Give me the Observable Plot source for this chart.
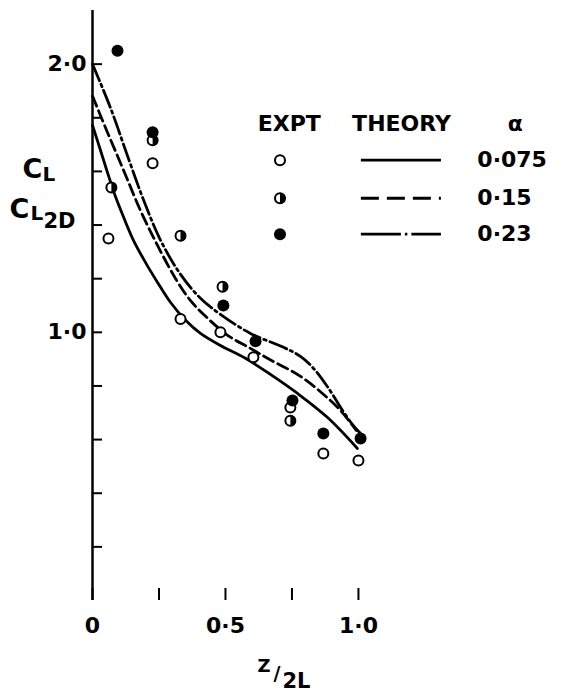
<!DOCTYPE html>
<html>
<head>
<meta charset="utf-8">
<script src="https://cdn.jsdelivr.net/npm/d3@7"></script>
<script src="https://cdn.jsdelivr.net/npm/@observablehq/plot@0.6"></script>
<style>
  html, body { margin: 0; padding: 0; background: #fff; }
</style>
</head>
<body>
<div id="chart"></div>
<script>
// ---- data ----
const alphaLabels = ["0·075", "0·15", "0·23"];

// Theory curves (z/2l, CL/CL2D)
const theory075X = [0, 0.030, 0.056, 0.086, 0.117, 0.154, 0.199, 0.244, 0.293, 0.350, 0.406, 0.481, 0.575, 0.669, 0.771, 0.883, 0.996];
const theory075Y = [1.772, 1.679, 1.597, 1.507, 1.429, 1.343, 1.261, 1.187, 1.112, 1.045, 0.996, 0.951, 0.903, 0.843, 0.772, 0.683, 0.567];

const theory015X = [0, 0.056, 0.117, 0.180, 0.244, 0.312, 0.368, 0.425, 0.508, 0.594, 0.658, 0.782, 0.868, 0.932, 0.992];
const theory015Y = [1.881, 1.746, 1.604, 1.455, 1.325, 1.201, 1.119, 1.060, 0.989, 0.940, 0.903, 0.836, 0.769, 0.709, 0.634];

const theory023X = [0, 0.068, 0.132, 0.192, 0.256, 0.331, 0.406, 0.481, 0.594, 0.718, 0.782, 0.838, 0.895, 0.940, 0.977, 1.008];
const theory023Y = [2.0, 1.836, 1.657, 1.493, 1.343, 1.216, 1.127, 1.067, 0.996, 0.944, 0.910, 0.858, 0.780, 0.709, 0.657, 0.623];

// Experimental points
const expt075X = [0.060, 0.226, 0.331, 0.481, 0.605, 0.744, 0.868, 1.0];
const expt075Y = [1.350, 1.630, 1.050, 1.000, 0.907, 0.720, 0.548, 0.522];

const expt015X = [0.071, 0.226, 0.331, 0.489, 0.744];
const expt015Y = [1.540, 1.716, 1.360, 1.170, 0.670];

const expt023X = [0.094, 0.226, 0.492, 0.613, 0.752, 0.868, 1.008];
const expt023Y = [2.050, 1.746, 1.100, 0.967, 0.746, 0.623, 0.604];

// Axes
const yTicks = [0.2, 0.4, 0.6, 0.8, 1.0, 1.2, 1.4, 1.6, 1.8, 2.0];
const yLabelValues = [1.0, 2.0];
const yLabelTexts = ["1·0", "2·0"];
const xTicks = [0, 0.25, 0.5, 0.75, 1.0];
const xLabelValues = [0, 0.5, 1.0];
const xLabelTexts = ["0", "0·5", "1·0"];

// ---- helpers ----
const halfRight = {
  draw(context, size) {
    const r = Math.sqrt(size / Math.PI);
    context.moveTo(0, -r);
    context.arc(0, 0, r, -Math.PI / 2, Math.PI / 2);
    context.closePath();
  }
};
const font = {fontWeight: "bold", fill: "black"};
const lg = {symX: 0.705, x1: 1.011, x2: 1.312, textX: 1.447, headY: 1.776, rows: [1.642, 1.500, 1.366]};
const lw = 2.8;

const chart = Plot.plot({
  width: 584,
  height: 696,
  marginLeft: 92,
  marginRight: 0,
  marginTop: 10,
  marginBottom: 96,
  x: {domain: [0, 1.85], axis: null},
  y: {domain: [0, 2.2], axis: null},
  style: {fontFamily: "DejaVu Sans", background: "white", color: "black"},
  marks: [
    // y axis line + inward ticks + labels
    Plot.ruleX([0], {y1: 0, y2: 2.2, strokeWidth: 2.5}),
    Plot.axisY(yTicks, {tickSize: -10, fill: "none", strokeWidth: 2, label: null}),
    Plot.axisY(yLabelValues, {tickSize: 0, tickPadding: 6, fontSize: 22, ...font,
      tickFormat: d => yLabelTexts[yLabelValues.indexOf(d)], label: null}),
    // x axis ticks + labels
    Plot.axisX(xTicks, {tickSize: -12, fill: "none", strokeWidth: 2, label: null}),
    Plot.axisX(xLabelValues, {tickSize: 0, tickPadding: 17, fontSize: 22, ...font,
      tickFormat: d => xLabelTexts[xLabelValues.indexOf(d)], label: null}),

    // theory curves
    Plot.line(theory075Y, {x: theory075X, y: theory075Y, curve: "catmull-rom", strokeWidth: lw}),
    Plot.line(theory015Y, {x: theory015X, y: theory015Y, curve: "catmull-rom", strokeWidth: lw, strokeDasharray: "11,5"}),
    Plot.line(theory023Y, {x: theory023X, y: theory023Y, curve: "catmull-rom", strokeWidth: lw, strokeDasharray: "18,4,2.5,4"}),

    // experimental points
    Plot.dot(expt075Y, {x: expt075X, y: expt075Y, r: 5, fill: "white", stroke: "black", strokeWidth: 2}),
    Plot.dot(expt015Y, {x: expt015X, y: expt015Y, r: 5, fill: "white", stroke: "black", strokeWidth: 2}),
    Plot.dot(expt015Y, {x: expt015X, y: expt015Y, r: 5.5, symbol: halfRight, fill: "black"}),
    Plot.dot(expt023Y, {x: expt023X, y: expt023Y, r: 6, fill: "black"}),

    // legend
    Plot.text(["EXPT", "THEORY", "α"], {x: [lg.symX + 0.035, 1.162, 1.59], y: lg.headY, text: d => d, fontSize: 22, ...font}),
    Plot.dot([0], {x: lg.symX, y: lg.rows[0], r: 5, fill: "white", stroke: "black", strokeWidth: 2}),
    Plot.dot([0], {x: lg.symX, y: lg.rows[1], r: 5, fill: "white", stroke: "black", strokeWidth: 2}),
    Plot.dot([0], {x: lg.symX, y: lg.rows[1], r: 5.5, symbol: halfRight, fill: "black"}),
    Plot.dot([0], {x: lg.symX, y: lg.rows[2], r: 6, fill: "black"}),
    Plot.ruleY([lg.rows[0]], {x1: lg.x1, x2: lg.x2, strokeWidth: lw}),
    Plot.ruleY([lg.rows[1]], {x1: lg.x1, x2: lg.x2, strokeWidth: lw, strokeDasharray: "18,8"}),
    Plot.ruleY([lg.rows[2]], {x1: lg.x1, x2: lg.x2, strokeWidth: lw, strokeDasharray: "40,4,2.5,4"}),
    Plot.text(alphaLabels, {x: lg.textX, y: lg.rows, text: d => d, textAnchor: "start", fontSize: 22, ...font}),

    // axis titles: CL / CL2D
    Plot.text(["C"], {frameAnchor: "top-left", dx: -70, dy: 148, text: d => d, textAnchor: "start", fontSize: 27, ...font}),
    Plot.text(["L"], {frameAnchor: "top-left", dx: -50, dy: 156, text: d => d, textAnchor: "start", fontSize: 20, ...font}),
    Plot.text(["C"], {frameAnchor: "top-left", dx: -83, dy: 188, text: d => d, textAnchor: "start", fontSize: 27, ...font}),
    Plot.text(["L"], {frameAnchor: "top-left", dx: -62, dy: 195, text: d => d, textAnchor: "start", fontSize: 20, ...font}),
    Plot.text(["2D"], {frameAnchor: "top-left", dx: -49, dy: 203, text: d => d, textAnchor: "start", fontSize: 21, ...font}),
    // axis title z/2l
    Plot.text(["Z"], {frameAnchor: "bottom-left", dx: 165, dy: 71, text: d => d, textAnchor: "start", fontSize: 18, ...font}),
    Plot.text(["/"], {frameAnchor: "bottom-left", dx: 181, dy: 79, text: d => d, textAnchor: "start", fontSize: 19, ...font}),
    Plot.text(["2L"], {frameAnchor: "bottom-left", dx: 190, dy: 87, text: d => d, textAnchor: "start", fontSize: 21, ...font})
  ]
});
document.getElementById("chart").append(chart);
</script>
</body>
</html>
